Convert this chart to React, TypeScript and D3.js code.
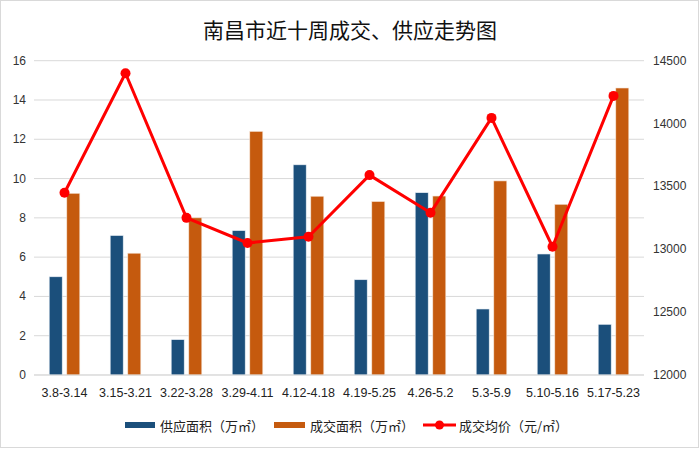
import React from "react";
import * as d3 from "d3";

const categories = ["3.8-3.14", "3.15-3.21", "3.22-3.28", "3.29-4.11", "4.12-4.18", "4.19-5.25", "4.26-5.2", "5.3-5.9", "5.10-5.16", "5.17-5.23"];
const supplyArea = [5.0, 7.1, 1.8, 7.35, 10.7, 4.85, 9.28, 3.36, 6.16, 2.58];
const dealArea = [9.25, 6.2, 8.0, 12.4, 9.1, 8.83, 9.11, 9.88, 8.69, 14.61];
const avgPrice = [13450, 14400, 13250, 13050, 13100, 13590, 13290, 14045, 13020, 14220];
const leftTicks = [0, 2, 4, 6, 8, 10, 12, 14, 16];
const rightTicks = [12000, 12500, 13000, 13500, 14000, 14500];
const title = "南昌市近十周成交、供应走势图";
const legendLabels = ["供应面积（万㎡）", "成交面积（万㎡）", "成交均价（元/㎡）"];

const W = 700, H = 449;
const plot = { left: 34, right: 644, top: 60.7, bottom: 375 };
const BLUE = "#1b4f7b";
const ORANGE = "#c55a0e";
const RED = "#ff0000";
const GRID = "#d9d9d9";
const FONT = "'Liberation Sans', 'Noto Sans', Arial, sans-serif";
const CJK = "'Noto Sans CJK SC', 'Noto Sans', sans-serif";

export default function App() {
  React.useEffect(() => {
    document.body.style.margin = "0";
  }, []);
  const x = d3.scaleBand<string>().domain(categories).range([plot.left, plot.right]);
  const yL = d3.scaleLinear().domain([0, 16]).range([plot.bottom, plot.top]);
  const yR = d3.scaleLinear().domain([12000, 14500]).range([plot.bottom, plot.top]);
  const barW = 13;
  const off = 8.8;
  const cx = (c: string) => (x(c) as number) + x.bandwidth() / 2;
  const line = d3.line<number>().x((_, i) => cx(categories[i])).y((d) => yR(d));

  return (
    <svg width={W} height={H} style={{ display: "block", background: "#fff" }}>
      <rect x={0.5} y={0.5} width={W - 2} height={H - 2} fill="#fff" stroke={GRID} />
      <text x={350} y={38} textAnchor="middle" fontFamily={CJK} fontSize={21} fill="#111">{title}</text>
      {leftTicks.map((t) => (
        <g key={"l" + t}>
          <line x1={plot.left} x2={plot.right} y1={yL(t)} y2={yL(t)} stroke={GRID} strokeWidth={1} />
          <text x={26} y={yL(t) + 4} textAnchor="end" fontFamily={FONT} fontSize={12} fill="#333">{t}</text>
        </g>
      ))}
      {rightTicks.map((t) => (
        <text key={"r" + t} x={653} y={yR(t) + 4} textAnchor="start" fontFamily={FONT} fontSize={12} fill="#333">{t}</text>
      ))}
      {categories.map((c, i) => (
        <g key={c}>
          <rect x={cx(c) - off - barW / 2} y={yL(supplyArea[i])} width={barW} height={yL(0) - yL(supplyArea[i])} fill={BLUE} stroke="#e8eef5" strokeWidth={0.6} />
          <rect x={cx(c) + off - barW / 2} y={yL(dealArea[i])} width={barW} height={yL(0) - yL(dealArea[i])} fill={ORANGE} stroke="#f5e3d6" strokeWidth={0.6} />
          <text x={cx(c)} y={397} textAnchor="middle" fontFamily={FONT} fontSize={12.5} fill="#222">{c}</text>
        </g>
      ))}
      <line x1={plot.left} x2={plot.right} y1={plot.bottom} y2={plot.bottom} stroke={GRID} />
      <path d={line(avgPrice) || ""} fill="none" stroke={RED} strokeWidth={3} strokeLinejoin="round" />
      {avgPrice.map((v, i) => (
        <circle key={i} cx={cx(categories[i])} cy={yR(v)} r={5} fill={RED} />
      ))}
      <g fontFamily={CJK} fontSize={13} fill="#222">
        <rect x={125} y={422} width={30} height={6} fill={BLUE} />
        <text x={160} y={431}>{legendLabels[0]}</text>
        <rect x={274} y={422} width={31} height={6} fill={ORANGE} />
        <text x={310} y={431}>{legendLabels[1]}</text>
        <line x1={423} x2={456} y1={425} y2={425} stroke={RED} strokeWidth={3} />
        <circle cx={439.5} cy={425} r={4.5} fill={RED} />
        <text x={459} y={431}>{legendLabels[2]}</text>
      </g>
    </svg>
  );
}
